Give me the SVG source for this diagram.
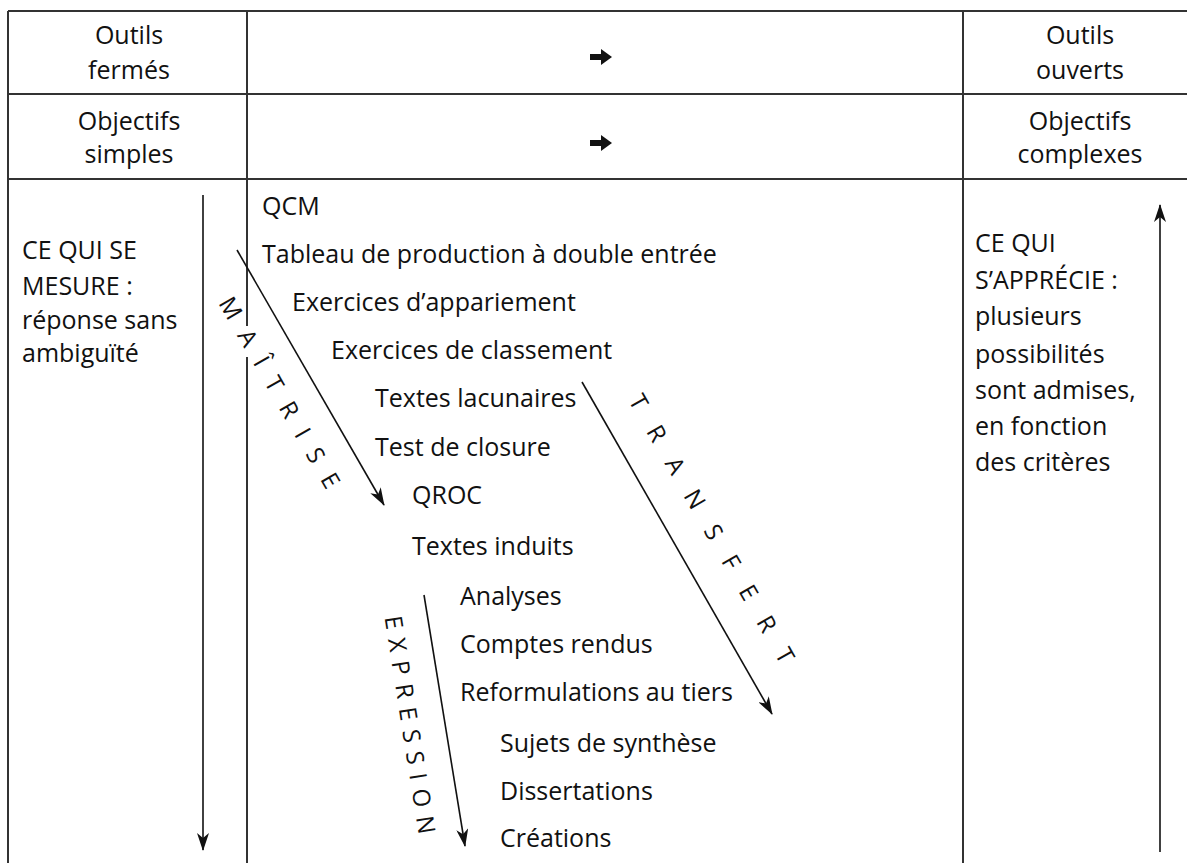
<svg xmlns="http://www.w3.org/2000/svg" width="1187" height="863" viewBox="0 0 1187 863">
<defs>
<style>
.t{font-family:"Open Sans","Noto Sans","Liberation Sans",sans-serif;font-size:25px;fill:#111}
.h{text-anchor:middle}
.d{font-family:"Open Sans","Noto Sans","Liberation Sans",sans-serif;font-size:24px;fill:#111}
.g{stroke:#333;stroke-width:2;fill:none}
.a{stroke:#111;stroke-width:1.6;fill:none;marker-end:url(#ah)}
</style>
<marker id="ah" viewBox="0 0 18 12" markerWidth="18" markerHeight="12" refX="17" refY="6" orient="auto" markerUnits="userSpaceOnUse">
<path d="M0,0 L18,6 L0,12 L5,6 z" fill="#111"/>
</marker>
<path id="bigarrow" d="M-11,-3 L0,-3 L0,-8 L11,0 L0,8 L0,3 L-11,3 z" fill="#111"/>
</defs>
<rect width="1187" height="863" fill="#fff"/>
<g id="grid">
<line class="g" x1="8" y1="11" x2="1187" y2="11"/>
<line class="g" x1="8" y1="94" x2="1187" y2="94"/>
<line class="g" x1="8" y1="179" x2="1187" y2="179"/>
<line class="g" x1="8" y1="11" x2="8" y2="863"/>
<line class="g" x1="247" y1="11" x2="247" y2="326"/>
<line class="g" x1="247" y1="357" x2="247" y2="863"/>
<line class="g" x1="963" y1="11" x2="963" y2="863"/>
</g>
<g id="header">
<text class="t h" x="129" y="44">Outils</text>
<text class="t h" x="129" y="79">fermés</text>
<text class="t h" x="129" y="130">Objectifs</text>
<text class="t h" x="129" y="163">simples</text>
<text class="t h" x="1080" y="44">Outils</text>
<text class="t h" x="1080" y="79">ouverts</text>
<text class="t h" x="1080" y="130">Objectifs</text>
<text class="t h" x="1080" y="163">complexes</text>
<use href="#bigarrow" x="601" y="57"/>
<use href="#bigarrow" x="601" y="143"/>
</g>
<g id="mesure">
<text class="t" x="22" y="259">CE QUI SE</text>
<text class="t" x="22" y="295">MESURE :</text>
<text class="t" x="22" y="329">réponse sans</text>
<text class="t" x="22" y="362">ambiguïté</text>
</g>
<g id="apprecie">
<text class="t" x="975" y="252">CE QUI</text>
<text class="t" x="975" y="289">S’APPRÉCIE :</text>
<text class="t" x="975" y="325">plusieurs</text>
<text class="t" x="975" y="363">possibilités</text>
<text class="t" x="975" y="399">sont admises,</text>
<text class="t" x="975" y="435">en fonction</text>
<text class="t" x="975" y="471">des critères</text>
</g>
<g id="items">
<text class="t" x="262" y="215">QCM</text>
<text class="t" x="262" y="263">Tableau de production à double entrée</text>
<text class="t" x="292" y="311">Exercices d’appariement</text>
<text class="t" x="331" y="359">Exercices de classement</text>
<text class="t" x="375" y="407">Textes lacunaires</text>
<text class="t" x="375" y="456">Test de closure</text>
<text class="t" x="412" y="504">QROC</text>
<text class="t" x="412" y="555">Textes induits</text>
<text class="t" x="460" y="605">Analyses</text>
<text class="t" x="460" y="653">Comptes rendus</text>
<text class="t" x="460" y="701">Reformulations au tiers</text>
<text class="t" x="500" y="752">Sujets de synthèse</text>
<text class="t" x="500" y="800">Dissertations</text>
<text class="t" x="500" y="847">Créations</text>
</g>
<g id="labels">
<text class="d" transform="translate(218,303) rotate(60)" letter-spacing="16">MAÎTRISE</text>
<text class="d" transform="translate(628,400.5) rotate(60)" letter-spacing="22.2">TRANSFERT</text>
<text class="d" transform="translate(384.4,617.3) rotate(81)" letter-spacing="9">EXPRESSION</text>
</g>
<g id="connectors">
<line class="a" x1="203" y1="195" x2="203" y2="850"/>
<line class="a" x1="1160" y1="852" x2="1160" y2="205"/>
<line class="a" x1="237" y1="250" x2="384" y2="505"/>
<line class="a" x1="582" y1="382" x2="772" y2="714"/>
<line class="a" x1="424" y1="595" x2="465" y2="846"/>
</g>
</svg>
